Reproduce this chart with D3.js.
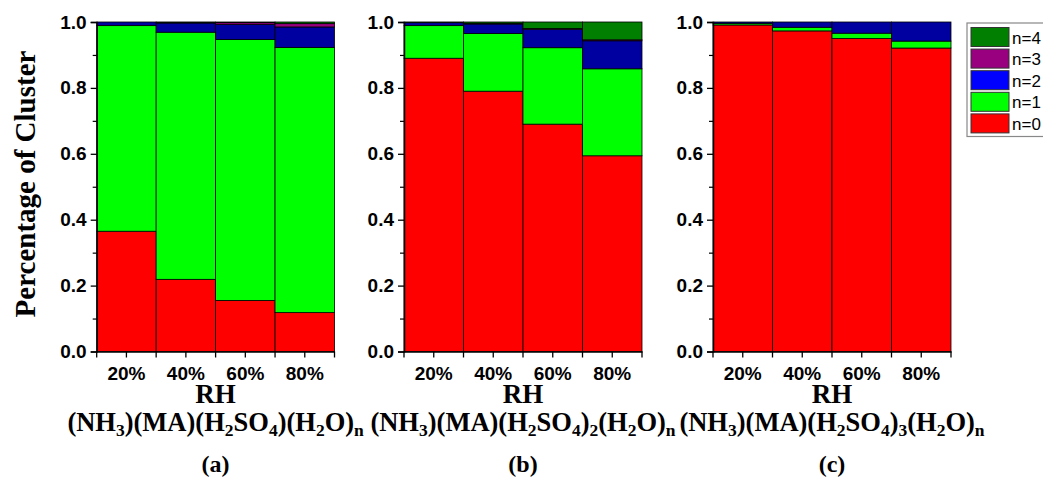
<!DOCTYPE html>
<html>
<head>
<meta charset="utf-8">
<script src="https://cdn.jsdelivr.net/npm/d3@7"></script>
<style>
	body { margin: 0; background: #fff; }
	svg { display: block; }
	.tick text { font-family: Arial, "Liberation Sans", sans-serif; font-weight: bold; font-size: 19px; }
	.serif { font-family: "Times New Roman", "Liberation Serif", serif; font-weight: bold; }
</style>
</head>
<body>
<div id="chart"></div>
<script>
// RH categories and cluster series
var rhLabels = ["20%", "40%", "60%", "80%"];
var seriesNames = ["n=0", "n=1", "n=2", "n=3", "n=4"];
var barColors = ["#ff0000", "#00ff00", "#0000a0", "#990080", "#007f00"];
var legendColors = ["#ff0000", "#00ff00", "#0000ff", "#990080", "#007f00"];
var yTicks = [0, 0.2, 0.4, 0.6, 0.8, 1.0];

// fractions per n (rows) for each RH (columns)
var panelA = [
	[0.365, 0.219, 0.155, 0.118],
	[0.624, 0.750, 0.792, 0.805],
	[0.011, 0.028, 0.046, 0.062],
	[0.000, 0.002, 0.005, 0.010],
	[0.000, 0.001, 0.002, 0.005]
];
var panelB = [
	[0.890, 0.790, 0.690, 0.594],
	[0.099, 0.175, 0.232, 0.264],
	[0.009, 0.029, 0.056, 0.085],
	[0.001, 0.002, 0.002, 0.003],
	[0.001, 0.004, 0.020, 0.054]
];
var panelC = [
	[0.991, 0.973, 0.950, 0.921],
	[0.005, 0.011, 0.016, 0.021],
	[0.004, 0.016, 0.034, 0.058],
	[0.000, 0.000, 0.000, 0.000],
	[0.000, 0.000, 0.000, 0.000]
];

var panels = [
	{ data: panelA, x0: 96.7, x1: 334.5, sub: "", tag: "(a)" },
	{ data: panelB, x0: 404, x1: 642, sub: "2", tag: "(b)" },
	{ data: panelC, x0: 713, x1: 951, sub: "3", tag: "(c)" }
];

var W = 1043, H = 479;
var svg = d3.select("#chart").append("svg")
	.attr("width", W)
	.attr("height", H);

var y = d3.scaleLinear().domain([0, 1]).range([351.5, 22]);

panels.forEach(function (p) {
	var x = d3.scaleBand().domain(rhLabels).range([p.x0, p.x1]).padding(0);

	// stack series per category
	var rows = rhLabels.map(function (rh, i) {
		var o = { rh: rh };
		seriesNames.forEach(function (s, k) { o[s] = p.data[k][i]; });
		return o;
	});
	var stacked = d3.stack().keys(seriesNames)(rows);

	var g = svg.append("g");
	stacked.forEach(function (layer, k) {
		g.selectAll(null)
			.data(layer.filter(function (d) { return d[1] - d[0] > 0; }))
			.enter().append("rect")
			.attr("x", function (d) { return x(d.data.rh); })
			.attr("width", x.bandwidth())
			.attr("y", function (d) { return y(d[1]); })
			.attr("height", function (d) { return y(d[0]) - y(d[1]); })
			.attr("fill", barColors[k])
			.attr("stroke", "#000")
			.attr("stroke-width", 0.8);
	});

	// y axis
	var yAxis = d3.axisLeft(y).tickValues(yTicks).tickFormat(d3.format(".1f")).tickSize(6).tickPadding(4);
	var ya = svg.append("g").attr("transform", "translate(" + p.x0 + ",0)").call(yAxis);
	ya.selectAll(".tick line").attr("stroke-width", 1.3);
	ya.select(".domain").attr("stroke-width", 1.5);
	svg.append("g").attr("transform", "translate(" + p.x0 + ",0)")
		.call(d3.axisLeft(y).tickValues(d3.range(0.1, 1, 0.2)).tickSize(4).tickFormat(""))
		.call(function (s) { s.select(".domain").remove(); s.selectAll("line").attr("stroke-width", 1.2); });

	// x axis: labels at centres, ticks at centres and boundaries
	var xa = svg.append("g").attr("transform", "translate(0," + y(0) + ")")
		.call(d3.axisBottom(x).tickSize(6).tickPadding(9).tickSizeOuter(0));
	xa.select(".domain").attr("stroke-width", 1.5);
	xa.selectAll(".tick line").attr("stroke-width", 1.3);
	var bounds = rhLabels.map(function (r) { return x(r); }).concat([p.x1]);
	xa.selectAll(".bound").data(bounds).enter().append("line")
		.attr("x1", function (d) { return d; }).attr("x2", function (d) { return d; })
		.attr("y1", 0).attr("y2", 6)
		.attr("stroke", "#000").attr("stroke-width", 1.3);

	var cx = (p.x0 + p.x1) / 2;
	svg.append("text").attr("class", "serif")
		.attr("x", cx).attr("y", 403).attr("text-anchor", "middle")
		.attr("font-size", 27).text("RH");

	// formula label with subscripts
	var f = svg.append("text").attr("class", "serif")
		.attr("x", cx).attr("y", 431).attr("text-anchor", "middle")
		.attr("font-size", 26.5);
	var parts = [["(NH", ""], ["3", "s"], [")(MA)(H", ""], ["2", "s"], ["SO", ""], ["4", "s"], [")", ""]];
	if (p.sub) parts.push([p.sub, "s"]);
	parts = parts.concat([["(H", ""], ["2", "s"], ["O)", ""], ["n", "s"]]);
	parts.forEach(function (t) {
		f.append("tspan")
			.attr("font-size", t[1] ? 17.5 : 26.5)
			.attr("baseline-shift", t[1] ? "-5" : "0")
			.text(t[0]);
	});

	svg.append("text").attr("class", "serif")
		.attr("x", cx).attr("y", 472).attr("text-anchor", "middle")
		.attr("font-size", 24).text(p.tag);
});

// y title
svg.append("text").attr("class", "serif")
	.attr("transform", "translate(35,184) rotate(-90)")
	.attr("text-anchor", "middle")
	.attr("font-size", 29)
	.text("Percentage of Cluster");

// legend
var legend = svg.append("g").attr("transform", "translate(967,23)");
legend.append("rect").attr("x", 0).attr("y", 0).attr("width", 90).attr("height", 113.5)
	.attr("fill", "#fff").attr("stroke", "#888").attr("stroke-width", 1.2);
var order = seriesNames.slice().reverse();
order.forEach(function (s, i) {
	var k = seriesNames.indexOf(s);
	var row = legend.append("g").attr("transform", "translate(0," + (4.5 + i * 21.6) + ")");
	row.append("rect").attr("x", 4).attr("y", 0).attr("width", 38).attr("height", 19)
		.attr("fill", legendColors[k]).attr("stroke", "#333").attr("stroke-width", 1);
	row.append("text").attr("x", 45).attr("y", 16)
		.attr("font-family", "Arial, 'Liberation Sans', sans-serif")
		.attr("font-size", 17).text(s);
});
</script>
</body>
</html>
